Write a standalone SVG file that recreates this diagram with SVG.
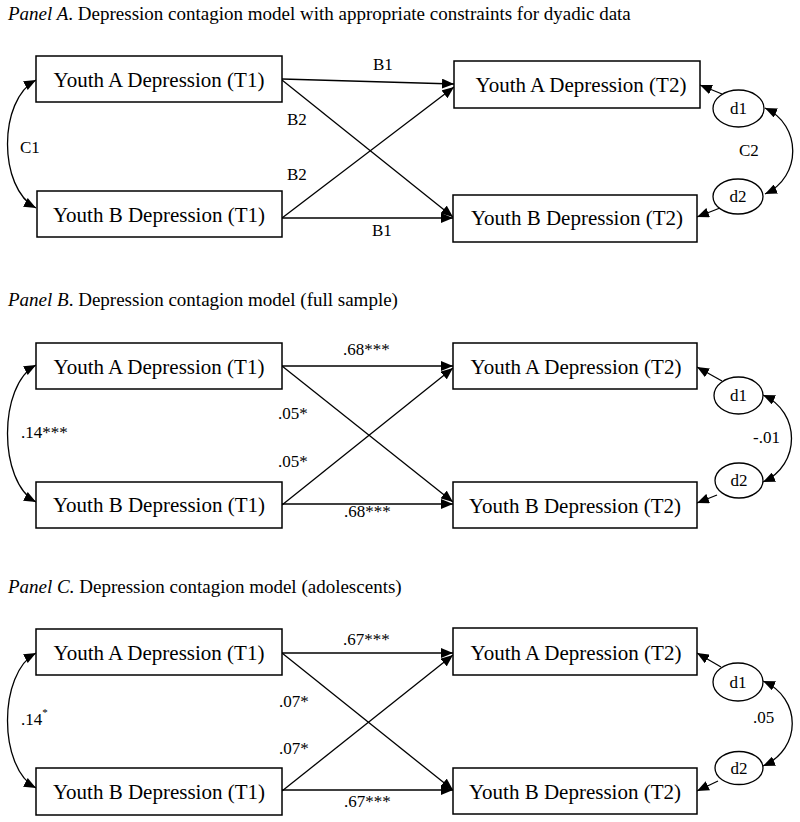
<svg xmlns="http://www.w3.org/2000/svg" width="800" height="822" viewBox="0 0 800 822">
<defs>
<marker id="ah" viewBox="0 0 12 10" refX="12" refY="5" markerWidth="12" markerHeight="10" markerUnits="userSpaceOnUse" orient="auto-start-reverse">
<path d="M0,0 L12,5 L0,10 z" fill="#000"/>
</marker>
<style>
text{font-family:"Liberation Serif","Times New Roman",serif;fill:#000}
.title{font-size:19px}
.it{font-style:italic}
.box{fill:#fff;stroke:#000;stroke-width:1.5}
.bt{font-size:21px;text-anchor:middle}
.ell{fill:#fff;stroke:#000;stroke-width:1.3}
.et{font-size:17px;text-anchor:middle}
.lbl{font-size:17px}
.sup{font-size:11px}
.c{fill:none;stroke:#000;stroke-width:1.3;marker-end:url(#ah)}
.cc{fill:none;stroke:#000;stroke-width:1.3;marker-start:url(#ah);marker-end:url(#ah)}
</style>
</defs>
<rect width="800" height="822" fill="#fff"/>

<!-- Panel A -->
<text class="title" x="8" y="20"><tspan class="it">Panel A</tspan>. Depression contagion model with appropriate constraints for dyadic data</text>
<g id="connectorsA">
<path class="c" d="M282,79 L454,84"/>
<path class="c" d="M282,80 L453,217"/>
<path class="c" d="M282,218 L454,87"/>
<path class="c" d="M282,218 L453,218"/>
<path class="c" d="M722,94 L700,85"/>
<path class="c" d="M720,208 L697,217"/>
<path class="cc" d="M36,80 C-2,100 -2,188 36,208"/>
<path class="cc" d="M765,108 C802,125 802,177 765,194"/>
<text class="lbl" x="373" y="70">B1</text>
<text class="lbl" x="372" y="236">B1</text>
<text class="lbl" x="287" y="125">B2</text>
<text class="lbl" x="287" y="180">B2</text>
<text class="lbl" x="20" y="153">C1</text>
<text class="lbl" x="739" y="156">C2</text>
</g>
<g id="A_A1"><rect class="box" x="36" y="56" width="246" height="46"/><text class="bt" x="159" y="87">Youth A Depression (T1)</text></g>
<g id="A_B1"><rect class="box" x="37" y="191" width="245" height="46"/><text class="bt" x="159" y="222">Youth B Depression (T1)</text></g>
<g id="A_A2"><rect class="box" x="454" y="61" width="246" height="47"/><text class="bt" x="581" y="92">Youth A Depression (T2)</text></g>
<g id="A_B2"><rect class="box" x="453" y="195" width="244" height="47"/><text class="bt" x="577" y="225">Youth B Depression (T2)</text></g>
<g id="A_d1"><ellipse class="ell" cx="738.5" cy="108.5" rx="25.5" ry="18.5"/><text class="et" x="738.5" y="114">d1</text></g>
<g id="A_d2"><ellipse class="ell" cx="738" cy="196.5" rx="25" ry="17.5"/><text class="et" x="738" y="202">d2</text></g>

<!-- Panel B -->
<text class="title" x="8" y="306"><tspan class="it">Panel B</tspan>. Depression contagion model (full sample)</text>
<g id="connectorsB">
<path class="c" d="M282,366 L453,366"/>
<path class="c" d="M282,366 L453,502"/>
<path class="c" d="M282,505 L453,368"/>
<path class="c" d="M282,504 L453,504"/>
<path class="c" d="M722,381 L697,367"/>
<path class="c" d="M717,495 L697,503"/>
<path class="cc" d="M36,365 C-2,385 -2,482 36,502"/>
<path class="cc" d="M763,395 C801,412 801,465 763,482"/>
<text class="lbl" x="343" y="355">.68***</text>
<text class="lbl" x="344" y="517">.68***</text>
<text class="lbl" x="278" y="419">.05*</text>
<text class="lbl" x="278" y="467">.05*</text>
<text class="lbl" x="21" y="438">.14***</text>
<text class="lbl" x="753" y="443">-.01</text>
</g>
<g id="B_A1"><rect class="box" x="36" y="343" width="246" height="46"/><text class="bt" x="159" y="374">Youth A Depression (T1)</text></g>
<g id="B_B1"><rect class="box" x="36" y="482" width="246" height="46"/><text class="bt" x="159" y="512">Youth B Depression (T1)</text></g>
<g id="B_A2"><rect class="box" x="453" y="343" width="244" height="46"/><text class="bt" x="576" y="374">Youth A Depression (T2)</text></g>
<g id="B_B2"><rect class="box" x="453" y="482" width="244" height="46"/><text class="bt" x="575" y="513">Youth B Depression (T2)</text></g>
<g id="B_d1"><ellipse class="ell" cx="738.5" cy="395.5" rx="24.5" ry="18.5"/><text class="et" x="738.5" y="401">d1</text></g>
<g id="B_d2"><ellipse class="ell" cx="739" cy="480.5" rx="24" ry="17.5"/><text class="et" x="739" y="486">d2</text></g>

<!-- Panel C -->
<text class="title" x="8" y="593"><tspan class="it">Panel C.</tspan> Depression contagion model (adolescents)</text>
<g id="connectorsC">
<path class="c" d="M282,653 L453,653"/>
<path class="c" d="M282,653 L453,790"/>
<path class="c" d="M282,791 L453,655"/>
<path class="c" d="M282,790 L453,790"/>
<path class="c" d="M721,667 L697,653"/>
<path class="c" d="M718,781 L697,791"/>
<path class="cc" d="M36,653 C-2,673 -2,768 36,788"/>
<path class="cc" d="M763,681 C802,698 802,749 763,766"/>
<text class="lbl" x="343" y="645">.67***</text>
<text class="lbl" x="344" y="807">.67***</text>
<text class="lbl" x="279" y="707">.07*</text>
<text class="lbl" x="279" y="754">.07*</text>
<text class="lbl" x="21" y="725">.14<tspan class="sup" dy="-9">*</tspan></text>
<text class="lbl" x="753" y="723">.05</text>
</g>
<g id="C_A1"><rect class="box" x="36" y="629" width="246" height="46"/><text class="bt" x="159" y="660">Youth A Depression (T1)</text></g>
<g id="C_B1"><rect class="box" x="36" y="768" width="246" height="47"/><text class="bt" x="159" y="799">Youth B Depression (T1)</text></g>
<g id="C_A2"><rect class="box" x="453" y="628" width="244" height="47"/><text class="bt" x="576" y="660">Youth A Depression (T2)</text></g>
<g id="C_B2"><rect class="box" x="453" y="768" width="244" height="46"/><text class="bt" x="575" y="799">Youth B Depression (T2)</text></g>
<g id="C_d1"><ellipse class="ell" cx="738" cy="682" rx="25" ry="19"/><text class="et" x="738" y="688">d1</text></g>
<g id="C_d2"><ellipse class="ell" cx="739" cy="768" rx="24" ry="16.5"/><text class="et" x="739" y="774">d2</text></g>
</svg>
